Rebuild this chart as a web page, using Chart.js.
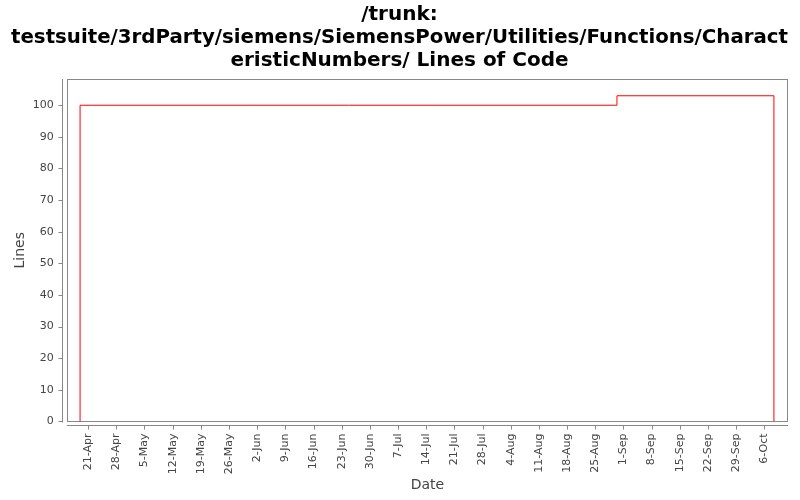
<!DOCTYPE html>
<html>
<head>
<meta charset="utf-8">
<script src="https://cdn.jsdelivr.net/npm/chart.js@4/dist/chart.umd.min.js"></script>
<style>
  html, body { margin: 0; padding: 0; background: #fff; }
  #wrap { width: 800px; height: 500px; }
</style>
</head>
<body>
<div id="wrap"><canvas id="locChart"></canvas></div>
<script>
// Days counted from 21-Apr (tick 0), weekly ticks
const tickLabels = ['21-Apr', '28-Apr', '5-May', '12-May', '19-May', '26-May', '2-Jun', '9-Jun',
    '16-Jun', '23-Jun', '30-Jun', '7-Jul', '14-Jul', '21-Jul', '28-Jul', '4-Aug', '11-Aug',
    '18-Aug', '25-Aug', '1-Sep', '8-Sep', '15-Sep', '22-Sep', '29-Sep', '6-Oct'];
const dayOffsets = [-2, -2, 131.4, 170.4, 170.4];
const lineCounts = [0, 100, 103, 103, 0];

const axisGray = '#888888';
const textGray = '#444444';

// plot box plus offset axis lines, JFreeChart style
const framePlugin = {
    id: 'frame',
    beforeDatasetsDraw(chart) {
        const ctx = chart.ctx;
        const a = chart.chartArea;
        const x = chart.scales.x, y = chart.scales.y;
        ctx.save();
        ctx.strokeStyle = axisGray;
        ctx.lineWidth = 1;
        ctx.strokeRect(Math.round(a.left) + 0.5, Math.round(a.top) + 0.5,
            Math.round(a.right - a.left) - 1, Math.round(a.bottom - a.top));
        // y axis line and ticks
        const ax = Math.round(a.left) - 4.5;
        ctx.beginPath();
        ctx.moveTo(ax, a.top);
        ctx.lineTo(ax, a.bottom + 1);
        y.ticks.forEach(t => {
            const py = Math.round(y.getPixelForValue(t.value)) + 0.5;
            ctx.moveTo(ax, py);
            ctx.lineTo(ax - 4, py);
        });
        // x axis line and ticks
        const ay = Math.round(a.bottom) + 4.5;
        ctx.moveTo(a.left, ay);
        ctx.lineTo(a.right, ay);
        x.ticks.forEach(t => {
            const px = Math.round(x.getPixelForValue(t.value)) + 0.5;
            ctx.moveTo(px, ay);
            ctx.lineTo(px, ay + 4);
        });
        ctx.stroke();
        ctx.restore();
    }
};

document.addEventListener('DOMContentLoaded', function() {
    const ctx = document.getElementById('locChart').getContext('2d');
    const locChart = new Chart(ctx, {
        type: 'line',
        data: {
            datasets: [{
                data: dayOffsets.map((d, i) => ({ x: d, y: lineCounts[i] })),
                borderColor: '#ff0000',
                borderWidth: 1,
                pointRadius: 0,
                stepped: true,
                fill: false
            }]
        },
        options: {
            responsive: true,
            maintainAspectRatio: false,
            animation: false,
            layout: { padding: { left: 11, right: 12, top: 0, bottom: 6 } },
            plugins: {
                legend: { display: false },
                tooltip: { enabled: false },
                title: {
                    display: true,
                    text: ['/trunk:',
                        'testsuite/3rdParty/siemens/SiemensPower/Utilities/Functions/Charact',
                        'eristicNumbers/ Lines of Code'],
                    color: '#000',
                    font: { family: 'DejaVu Sans', size: 20, weight: 'bold', lineHeight: 1.15 },
                    padding: { top: 3, bottom: 7 }
                }
            },
            scales: {
                x: {
                    type: 'linear',
                    min: -5.3,
                    max: 173.9,
                    grid: { display: false, drawTicks: false },
                    border: { display: false },
                    ticks: {
                        stepSize: 7,
                        includeBounds: false,
                        autoSkip: false,
                        minRotation: 90,
                        maxRotation: 90,
                        padding: 12,
                        color: textGray,
                        font: { family: 'DejaVu Sans', size: 11 },
                        callback: v => tickLabels[Math.round(v / 7)] || ''
                    },
                    title: {
                        display: true,
                        text: 'Date',
                        color: textGray,
                        font: { family: 'DejaVu Sans', size: 14 },
                        padding: { top: -9, bottom: 0 }
                    }
                },
                y: {
                    min: 0,
                    max: 108.3,
                    grid: { display: false, drawTicks: false },
                    border: { display: false },
                    ticks: {
                        stepSize: 10,
                        includeBounds: false,
                        padding: 13,
                        color: textGray,
                        font: { family: 'DejaVu Sans', size: 11 }
                    },
                    title: {
                        display: true,
                        text: 'Lines',
                        color: textGray,
                        font: { family: 'DejaVu Sans', size: 14 },
                        padding: { top: 1, bottom: -9 }
                    }
                }
            }
        },
        plugins: [framePlugin]
    });
});
</script>
</body>
</html>
